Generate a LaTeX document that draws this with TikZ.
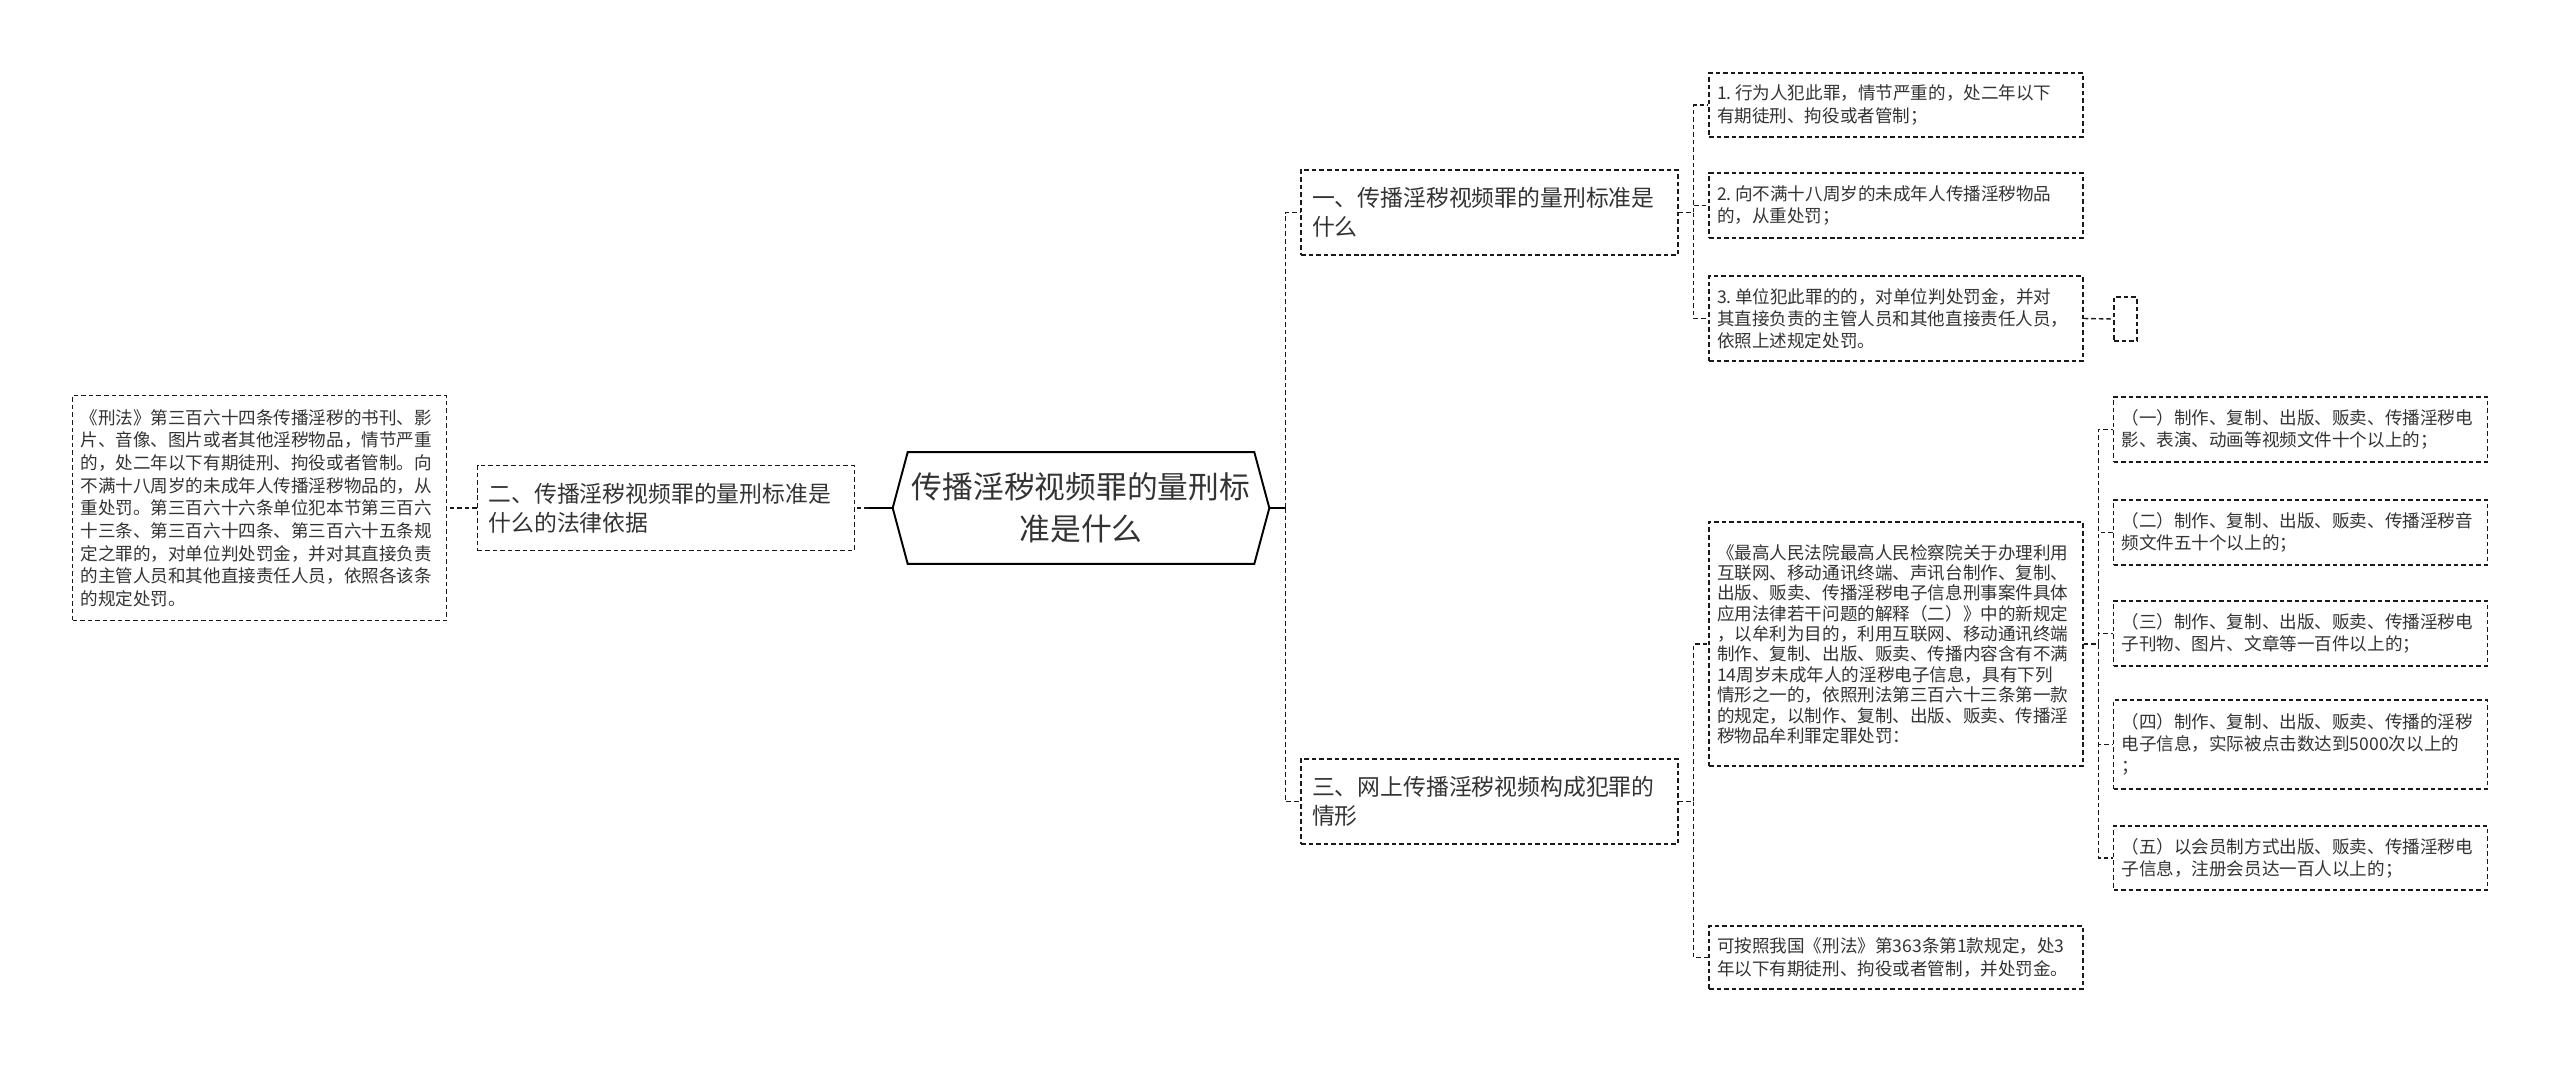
\documentclass[tikz,border=0pt]{standalone}
\usepackage{fontspec}
\setmainfont{Noto Sans CJK SC}
\usetikzlibrary{calc}
\definecolor{inkgray}{HTML}{333333}
\definecolor{linegray}{HTML}{1A1A1A}

\begin{document}
\begin{tikzpicture}[
  x=0.02cm, y=-0.02cm,
  dashline/.style={draw=linegray, line width=0.8pt, dash pattern=on 2.6pt off 1.7pt},
  rootbox/.style={rectangle, minimum width=6.92cm, minimum height=2.22cm, inner xsep=0.05cm,
    text width=6.82cm, align=center, text=inkgray, font=\fontsize{17.5}{24}\selectfont},
  branchbox/.style={rectangle, dashline, minimum width=7.54cm, minimum height=1.7cm,
    inner xsep=0.22cm, text width=7.1cm, align=left, text=inkgray, font=\fontsize{13}{16.7}\selectfont},
  leafbox/.style={rectangle, dashline, minimum width=7.48cm, inner xsep=0.16cm,
    text width=7.16cm, align=left, text=inkgray, font=\fontsize{10}{12.6}\selectfont},
  link/.style={dashline},
  stub/.style={draw=black, line width=1.1pt}
]
\useasboundingbox (0,0) rectangle (2560,1066);

% Root
\node[rootbox] (root) at (1081, 508) {传播淫秽视频罪的量刑标\\准是什么};
\coordinate (rootE) at ($(root.east)+(15,0)$);
\coordinate (rootW) at ($(root.west)+(-15,0)$);
\draw[stub] (root.north west) -- (root.north east) -- (rootE) -- (root.south east)
  -- (root.south west) -- (rootW) -- cycle;

% Left side: legal basis
\node[branchbox] (basis) at (666, 508) {二、传播淫秽视频罪的量刑标准是\\什么的法律依据};
\node[leafbox, minimum height=4.5cm, font=\fontsize{10}{12.9}\selectfont] (law) at (259.5, 508)
  {《刑法》第三百六十四条传播淫秽的书刊、影\\片、音像、图片或者其他淫秽物品，情节严重\\的，处二年以下有期徒刑、拘役或者管制。向\\不满十八周岁的未成年人传播淫秽物品的，从\\重处罚。第三百六十六条单位犯本节第三百六\\十三条、第三百六十四条、第三百六十五条规\\定之罪的，对单位判处罚金，并对其直接负责\\的主管人员和其他直接责任人员，依照各该条\\的规定处罚。};

\draw[stub] (rootW) -- ++(-24,0) coordinate (jleft);
\draw[link] (jleft) -- (basis.east);
\draw[link] (basis.west) -- (law.east);

% Right side: branches
\node[branchbox] (standard) at (1489.5, 212.5) {一、传播淫秽视频罪的量刑标准是\\什么};
\node[branchbox] (crime) at (1489.5, 801.5) {三、网上传播淫秽视频构成犯罪的\\情形};

\draw[stub] (rootE) -- ++(16,0) coordinate (jright);
\draw[link] (jright) |- (standard.west);
\draw[link] (jright) |- (crime.west);

% Sentencing standard leaves
\node[leafbox, minimum height=1.28cm] (sa) at (1896, 105) {1.\kern2pt 行为人犯此罪，情节严重的，处二年以下\\有期徒刑、拘役或者管制；};
\node[leafbox, minimum height=1.3cm] (sb) at (1896, 205.5) {2.\kern2pt 向不满十八周岁的未成年人传播淫秽物品\\的，从重处罚；};
\node[leafbox, minimum height=1.7cm] (sc) at (1896, 318.5) {3.\kern2pt 单位犯此罪的的，对单位判处罚金，并对\\其直接负责的主管人员和其他直接责任人员，\\依照上述规定处罚。};
\node[rectangle, dashline, minimum width=0.46cm, minimum height=0.88cm, inner sep=0pt] (blank) at (2125.5, 319) {};

\draw[link] (standard.east) -- ++(15,0) |- (sa.west);
\draw[link] (standard.east) -- ++(15,0) |- (sb.west);
\draw[link] (standard.east) -- ++(15,0) |- (sc.west);
\draw[link] (sc.east) -- (blank.west);

% Crime situations
\node[leafbox, minimum height=4.88cm, font=\fontsize{10}{11.6}\selectfont] (interp) at (1896, 644)
  {《最高人民法院最高人民检察院关于办理利用\\互联网、移动通讯终端、声讯台制作、复制、\\出版、贩卖、传播淫秽电子信息刑事案件具体\\应用法律若干问题的解释（二）》中的新规定\\，以牟利为目的，利用互联网、移动通讯终端\\制作、复制、出版、贩卖、传播内容含有不满\\14周岁未成年人的淫秽电子信息，具有下列\\情形之一的，依照刑法第三百六十三条第一款\\的规定，以制作、复制、出版、贩卖、传播淫\\秽物品牟利罪定罪处罚：};
\node[leafbox, minimum height=1.26cm] (penalty) at (1896, 957.5) {可按照我国《刑法》第363条第1款规定，处3\\年以下有期徒刑、拘役或者管制，并处罚金。};

\draw[link] (crime.east) -- ++(15,0) |- (interp.west);
\draw[link] (crime.east) -- ++(15,0) |- (penalty.west);

% Five situations
\node[leafbox, minimum height=1.3cm] (ca) at (2300.5, 429.5) {（一）制作、复制、出版、贩卖、传播淫秽电\\影、表演、动画等视频文件十个以上的；};
\node[leafbox, minimum height=1.3cm] (cb) at (2300.5, 532.5) {（二）制作、复制、出版、贩卖、传播淫秽音\\频文件五十个以上的；};
\node[leafbox, minimum height=1.3cm] (cc) at (2300.5, 633.5) {（三）制作、复制、出版、贩卖、传播淫秽电\\子刊物、图片、文章等一百件以上的；};
\node[leafbox, minimum height=1.78cm] (cd) at (2300.5, 744.5) {（四）制作、复制、出版、贩卖、传播的淫秽\\电子信息，实际被点击数达到5000次以上的\\；};
\node[leafbox, minimum height=1.28cm] (ce) at (2300.5, 858) {（五）以会员制方式出版、贩卖、传播淫秽电\\子信息，注册会员达一百人以上的；};

\draw[link] (interp.east) -- ++(15,0) |- (ca.west);
\draw[link] (interp.east) -- ++(15,0) |- (cb.west);
\draw[link] (interp.east) -- ++(15,0) |- (cc.west);
\draw[link] (interp.east) -- ++(15,0) |- (cd.west);
\draw[link] (interp.east) -- ++(15,0) |- (ce.west);

\end{tikzpicture}
\end{document}
